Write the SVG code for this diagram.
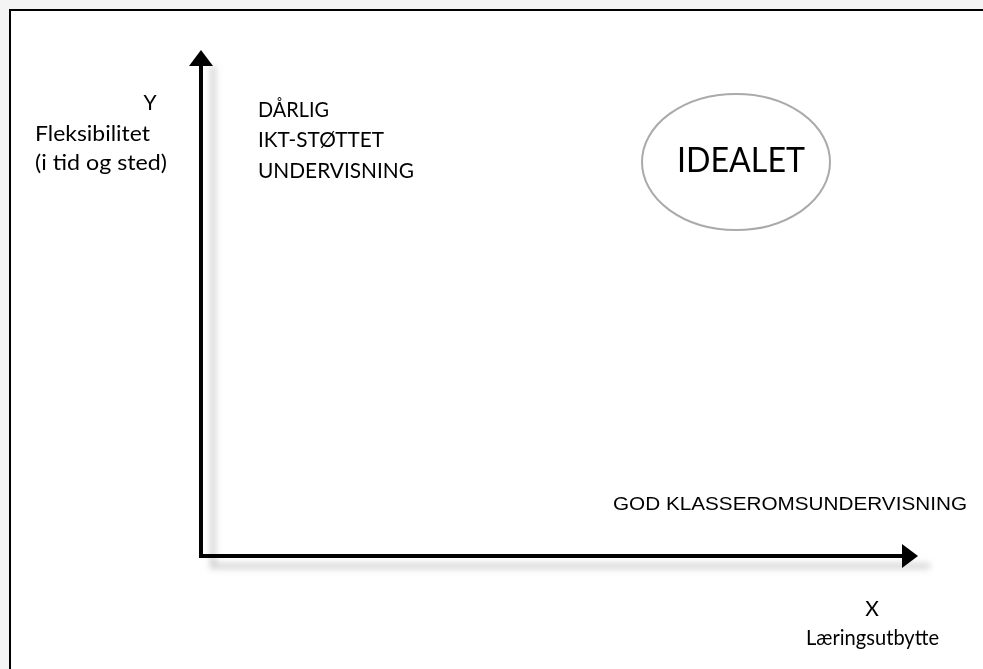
<svg xmlns="http://www.w3.org/2000/svg" width="983" height="669" viewBox="0 0 983 669">
<defs>
<style>
.t{font-family:Lato,"Open Sans","Liberation Sans",sans-serif;font-size:21px;fill:#000}
.a{font-family:"Liberation Sans",Arial,sans-serif;font-size:18px;fill:#000}
.ax{stroke:#000;stroke-width:4;fill:none}
.sh{stroke:#bbb;stroke-width:6;fill:none;opacity:0.6}
</style>
<filter id="blur" x="-20%" y="-20%" width="140%" height="140%"><feGaussianBlur stdDeviation="3"/></filter>
<marker id="ah" markerWidth="6" markerHeight="6" refX="1" refY="3" orient="auto" markerUnits="strokeWidth">
<path d="M0,0 L4,3 L0,6 Z" fill="#000"/>
</marker>
</defs>
<rect x="0" y="0" width="983" height="669" fill="#f4f4f4"/>
<rect x="10" y="10" width="980" height="670" fill="#fff" stroke="#000" stroke-width="2"/>
<g id="connectors">
<g filter="url(#blur)">
<line class="sh" x1="213" y1="66" x2="213" y2="566"/>
<line class="sh" x1="210" y1="566" x2="930" y2="566"/>
</g>
<line class="ax" x1="201" y1="558" x2="201" y2="62" marker-end="url(#ah)"/>
<line class="ax" x1="199" y1="556" x2="906" y2="556" marker-end="url(#ah)"/>
</g>
<g id="y-label">
<text class="t" x="150" y="110" text-anchor="middle">Y</text>
<text class="t" x="35" y="141" textLength="115" lengthAdjust="spacingAndGlyphs">Fleksibilitet</text>
<text class="t" x="35" y="170" textLength="132" lengthAdjust="spacingAndGlyphs">(i tid og sted)</text>
</g>
<g id="darlig">
<text class="t" x="258" y="117" textLength="71" lengthAdjust="spacingAndGlyphs">DÅRLIG</text>
<text class="t" x="258" y="147" textLength="126" lengthAdjust="spacingAndGlyphs">IKT-STØTTET</text>
<text class="t" x="258" y="178" textLength="156" lengthAdjust="spacingAndGlyphs">UNDERVISNING</text>
</g>
<g id="idealet">
<ellipse cx="736" cy="162" rx="94" ry="68" fill="#fff" stroke="#aaa" stroke-width="2"/>
<text class="t" x="677" y="172" textLength="128" lengthAdjust="spacingAndGlyphs" style="font-size:34px">IDEALET</text>
</g>
<g id="god">
<text class="a" x="613" y="510" textLength="354" lengthAdjust="spacingAndGlyphs">GOD KLASSEROMSUNDERVISNING</text>
</g>
<g id="x-label">
<text class="t" x="872" y="616" text-anchor="middle">X</text>
<text class="t" x="806" y="645" textLength="133" lengthAdjust="spacingAndGlyphs">Læringsutbytte</text>
</g>
</svg>
